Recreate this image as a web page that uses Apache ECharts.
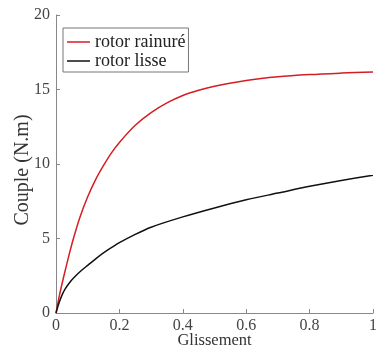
<!DOCTYPE html>
<html>
<head>
<meta charset="utf-8">
<script src="https://cdn.jsdelivr.net/npm/echarts@6/dist/echarts.min.js"></script>
<style>html,body{margin:0;padding:0;background:#fff}#c{width:380px;height:354px}</style>
</head>
<body>
<div id="c"></div>
<script>
const seriesNames = ['rotor rainuré', 'rotor lisse'];
const redX = [0, 0.01, 0.025, 0.04, 0.055, 0.075, 0.1, 0.125, 0.15, 0.175, 0.2, 0.25, 0.3, 0.35, 0.4, 0.45, 0.5, 0.6, 0.7, 0.8, 0.9, 1.0];
const redY = [0, 1.1, 2.5, 3.8, 5.0, 6.4, 7.8, 8.95, 9.9, 10.75, 11.45, 12.6, 13.45, 14.1, 14.6, 14.95, 15.22, 15.6, 15.85, 16.0, 16.1, 16.18];
const blackX = [0, 0.01, 0.02, 0.03, 0.045, 0.06, 0.08, 0.1, 0.13, 0.16, 0.2, 0.25, 0.3, 0.4, 0.5, 0.6, 0.7, 0.8, 0.9, 1.0];
const blackY = [0, 0.7, 1.25, 1.65, 2.1, 2.45, 2.85, 3.2, 3.72, 4.18, 4.72, 5.28, 5.76, 6.45, 7.05, 7.6, 8.05, 8.5, 8.9, 9.25];
const xTicks = [0, 0.2, 0.4, 0.6, 0.8, 1];
const yTicks = [0, 5, 10, 15, 20];

const font = '"Liberation Serif", "Times New Roman", serif';
const chart = echarts.init(document.getElementById('c'));
chart.setOption({
  animation: false,
  backgroundColor: '#fff',
  grid: { left: 56, right: 0, top: 15, bottom: 39, containLabel: false },
  legend: {
    orient: 'vertical',
    left: 63, top: 28,
    padding: [5, 3, 2, 4],
    itemGap: 1,
    icon: 'rect',
    itemWidth: 23, itemHeight: 1.5,
    borderColor: '#777', borderWidth: 1,
    backgroundColor: '#fff',
    textStyle: { fontFamily: font, fontSize: 18, color: '#222', lineHeight: 18 },
    data: seriesNames
  },
  xAxis: {
    type: 'value', min: 0, max: 1, interval: 0.2,
    name: 'Glissement', nameLocation: 'middle', nameGap: 19, nameMoveOverlap: false,
    nameTextStyle: { fontFamily: font, fontSize: 16.5, color: '#333' },
    axisLine: { lineStyle: { color: '#888', width: 1 } },
    axisTick: { inside: true, length: 4, lineStyle: { color: '#888' } },
    axisLabel: { fontFamily: font, fontSize: 16, color: '#444', margin: 5,
      formatter: v => xTicks.includes(Math.round(v*10)/10) ? String(Math.round(v*10)/10) : '' },
    splitLine: { show: false }
  },
  yAxis: {
    type: 'value', min: 0, max: 20, interval: 5,
    name: 'Couple (N.m)', nameLocation: 'middle', nameGap: 23, nameRotate: 90, nameMoveOverlap: false,
    nameTextStyle: { fontFamily: font, fontSize: 20, color: '#333', padding: [0, 12, 0, 0] },
    axisLine: { show: true, lineStyle: { color: '#888', width: 1 } },
    axisTick: { show: true, inside: true, length: 4, lineStyle: { color: '#888' } },
    axisLabel: { fontFamily: font, fontSize: 16, color: '#444', margin: 6,
      formatter: v => yTicks.includes(v) ? String(v) : '' },
    splitLine: { show: false }
  },
  series: [
    { name: seriesNames[0], type: 'line', symbol: 'none', smooth: 0.3,
      lineStyle: { color: '#d41e24', width: 1.5 }, itemStyle: { color: '#d41e24' },
      data: redX.map((x, i) => [x, redY[i]]) },
    { name: seriesNames[1], type: 'line', symbol: 'none', smooth: 0.3,
      lineStyle: { color: '#111', width: 1.5 }, itemStyle: { color: '#111' },
      data: blackX.map((x, i) => [x, blackY[i]]) }
  ]
});
</script>
</body>
</html>
